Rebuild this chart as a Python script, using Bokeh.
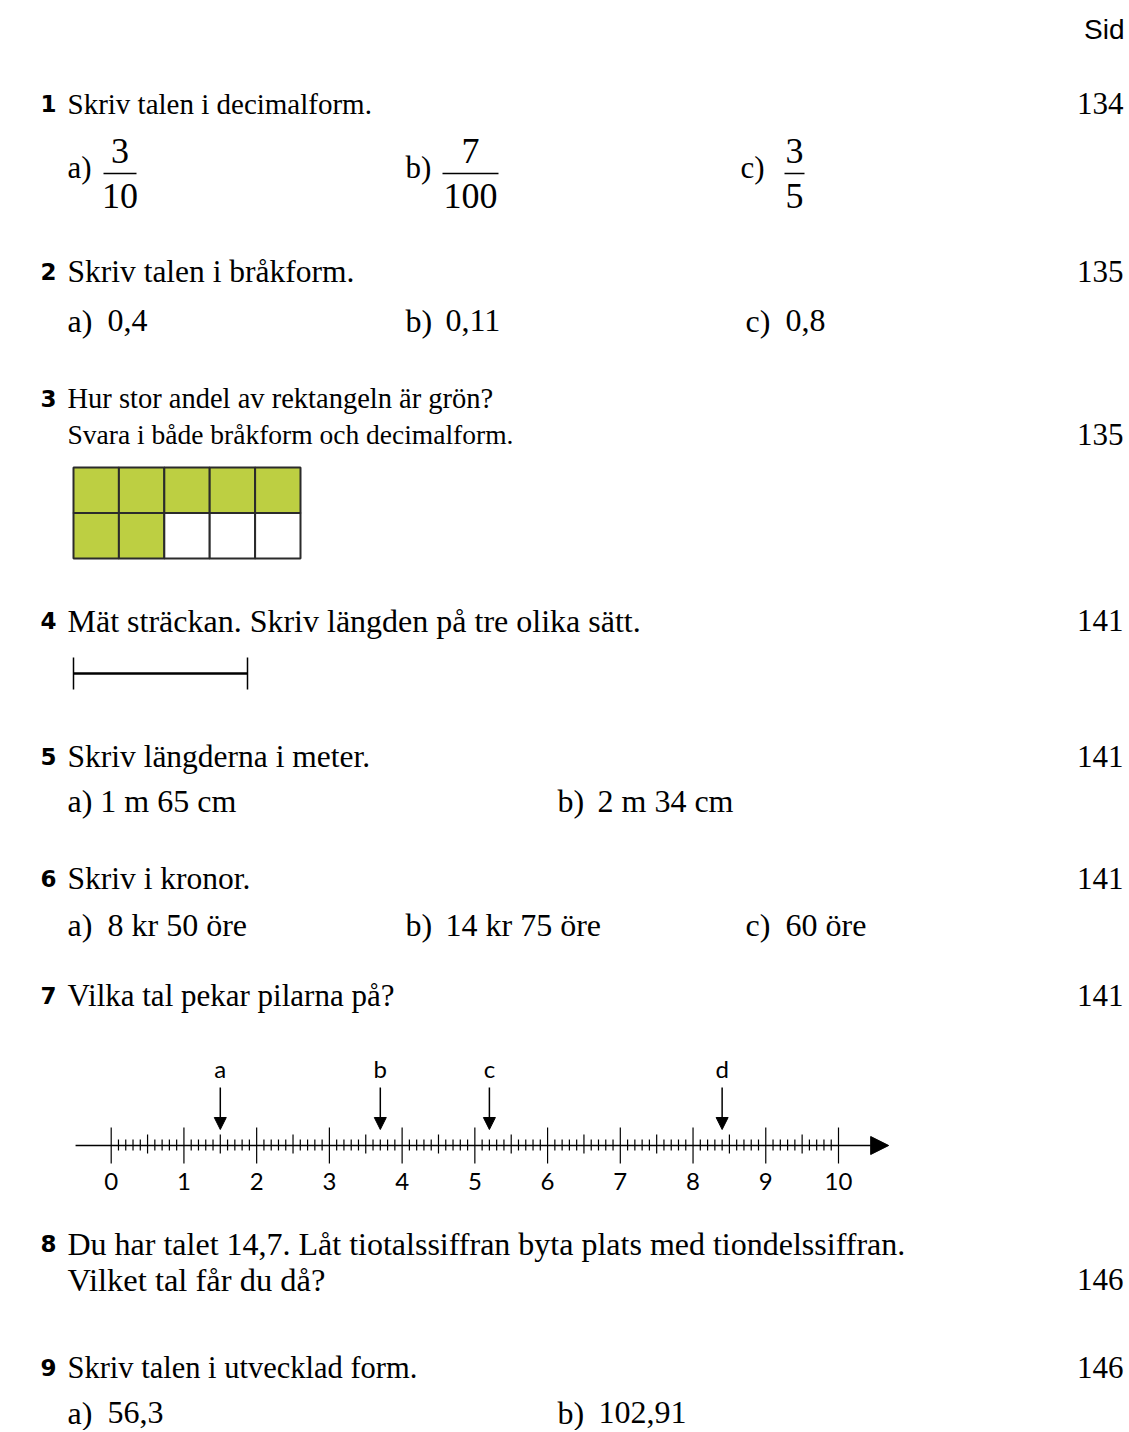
from bokeh.plotting import figure
from bokeh.models import Range1d, ColumnDataSource, Arrow, NormalHead
from bokeh.core.properties import value
from bokeh.embed import file_html
from bokeh.resources import INLINE

# ---------------- data ----------------
item_numbers = ["1", "2", "3", "4", "5", "6", "7", "8", "9"]
item_texts = [
    ["Skriv talen i decimalform."],
    ["Skriv talen i bråkform."],
    ["Hur stor andel av rektangeln är grön?", "Svara i både bråkform och decimalform."],
    ["Mät sträckan. Skriv längden på tre olika sätt."],
    ["Skriv längderna i meter."],
    ["Skriv i kronor."],
    ["Vilka tal pekar pilarna på?"],
    ["Du har talet 14,7. Låt tiotalssiffran byta plats med tiondelssiffran.",
     "Vilket tal får du då?"],
    ["Skriv talen i utvecklad form."],
]
page_refs = ["134", "135", "135", "141", "141", "141", "141", "146", "146"]

frac_labels = ["a)", "b)", "c)"]
frac_num = ["3", "7", "3"]
frac_den = ["10", "100", "5"]

q2_labels = ["a)", "b)", "c)"]
q2_values = ["0,4", "0,11", "0,8"]

grid_cols = 5
grid_rows = 2
grid_shaded = 7          # 7 of 10 cells green

q5_labels = ["a)", "b)"]
q5_values = ["1 m 65 cm", "2 m 34 cm"]

q6_labels = ["a)", "b)", "c)"]
q6_values = ["8 kr 50 öre", "14 kr 75 öre", "60 öre"]

nl_ticks = [str(i) for i in range(11)]
arrow_letters = ["a", "b", "c", "d"]
arrow_values = [1.5, 3.7, 5.2, 8.4]

q9_labels = ["a)", "b)"]
q9_values = ["56,3", "102,91"]

# ---------------- layout (page pixels) ----------------
W, H = 1127, 1430
SERIF = value("Liberation Serif")

p = figure(width=W, height=H, output_backend="svg", toolbar_location=None,
           x_range=Range1d(0, W), y_range=Range1d(H, 0),
           min_border=0, outline_line_color=None)
p.axis.visible = False
p.grid.visible = False
p.background_fill_color = "white"
p.border_fill_color = "white"

# vertical centre of the first line of each item
head_y = [103, 271, 398, 620, 756, 878, 995, 1243, 1367]
head_sizes = [[29], [31.5], [28.5, 27.5], [32], [31.5], [31.5], [31], [32, 32.5], [30.5]]
line_gap = 36
num_x, text_x, ref_x = 40, 67, 1123

# bold item numbers
p.text(x=[num_x] * 9, y=head_y, text=item_numbers,
       text_font=value("DejaVu Sans"), text_font_style="bold", text_font_size="23px",
       text_baseline="alphabetic", text_color="black")

# heading texts and page refs
tx, ty, tt, ts, ry = [], [], [], [], []
for hy, lines, sizes in zip(head_y, item_texts, head_sizes):
    for k, (ln, sz) in enumerate(zip(lines, sizes)):
        tx.append(text_x); ty.append(hy + k * line_gap); tt.append(ln)
        ts.append(f"{sz}px")
    ry.append(hy + (len(lines) - 1) * line_gap)
p.text(x=tx, y=ty, text=tt, text_font=SERIF, text_font_size=ts,
       text_baseline="alphabetic", text_color="black")
p.text(x=[ref_x] * 9, y=ry, text=page_refs, text_font=SERIF, text_font_size="31px",
       text_baseline="alphabetic", text_align="right", text_color="black")

# "Sid"
p.text(x=[1124], y=[29], text=["Sid"], text_font=value("Liberation Sans"),
       text_font_size="28px", text_baseline="alphabetic", text_align="right")

# ---- item 1: fractions
col3_x = [67, 405, 740]
frac_cx = [119.5, 470, 794]
frac_hw = [16.5, 28, 10]
p.text(x=col3_x, y=[167] * 3, text=frac_labels, text_font=SERIF, text_font_size="31px",
       text_baseline="alphabetic")
p.text(x=frac_cx, y=[150] * 3, text=frac_num, text_font=SERIF, text_font_size="36px",
       text_baseline="alphabetic", text_align="center")
p.text(x=frac_cx, y=[195] * 3, text=frac_den, text_font=SERIF, text_font_size="36px",
       text_baseline="alphabetic", text_align="center")
p.segment(x0=[c - h for c, h in zip(frac_cx, frac_hw)], y0=[173] * 3,
          x1=[c + h for c, h in zip(frac_cx, frac_hw)], y1=[173] * 3,
          line_color="black", line_width=1.5)

SUB = "32px"

def sub_row(labels, values, xs, y, off=40):
    p.text(x=xs, y=[y] * len(xs), text=labels, text_font=SERIF, text_font_size=SUB,
           text_baseline="alphabetic")
    p.text(x=[x + off for x in xs], y=[y] * len(xs), text=values, text_font=SERIF,
           text_font_size=SUB, text_baseline="alphabetic")

# ---- item 2
sub_row(q2_labels, q2_values, [67, 405, 745], 320)

# ---- item 3: grid
gx0, gy0, cw, ch = 73, 467, 45.4, 45.5
cx, cy, cc = [], [], []
for r in range(grid_rows):
    for c in range(grid_cols):
        idx = r * grid_cols + c
        cx.append(gx0 + cw * (c + 0.5)); cy.append(gy0 + ch * (r + 0.5))
        cc.append("#BDCF42" if idx < grid_shaded else "white")
p.rect(x=cx, y=cy, width=cw, height=ch, fill_color=cc, line_color="#2b2b2b", line_width=2)

# ---- item 4: segment to measure
p.segment(x0=[73], y0=[673], x1=[247], y1=[673], line_color="black", line_width=2.5)
p.segment(x0=[73, 247], y0=[657, 657], x1=[73, 247], y1=[689, 689],
          line_color="black", line_width=1.5)

# ---- item 5
p.text(x=[67], y=[800], text=[q5_labels[0] + " " + q5_values[0]], text_font=SERIF,
       text_font_size=SUB, text_baseline="alphabetic")
sub_row([q5_labels[1]], [q5_values[1]], [557], 800)

# ---- item 6
sub_row(q6_labels, q6_values, [67, 405, 745], 924)

# ---- item 7: number line (data units via extra range)
px0, unit = 110.7, 72.73
p.extra_x_ranges = {"nl": Range1d(-px0 / unit, (W - px0) / unit)}
axis_y = 1145
NLF = value("Lato")
tenths = [i / 10 for i in range(101)]
tx0, ty0, ty1 = [], [], []
for t in tenths:
    k = round(t * 10)
    if k % 10 == 0:
        a, b = -18, 18
    elif k % 5 == 0:
        a, b = -11, 8
    else:
        a, b = -6, 5
    tx0.append(t); ty0.append(axis_y + a); ty1.append(axis_y + b)
p.segment(x0=tx0, y0=ty0, x1=tx0, y1=ty1, x_range_name="nl", line_color="black",
          line_width=1.2)
p.add_layout(Arrow(x_start=-0.49, y_start=axis_y, x_end=10.69, y_end=axis_y,
                   x_range_name="nl", line_color="black", line_width=1.5,
                   end=NormalHead(size=18, fill_color="black", line_color="black")))
p.text(x=[float(v) for v in nl_ticks], y=[1181] * 11, text=nl_ticks, x_range_name="nl",
       text_font=NLF, text_font_size="24px", text_baseline="alphabetic",
       text_align="center")
asrc = ColumnDataSource(dict(x=arrow_values, y0=[1087] * 4, y1=[1129] * 4,
                             lab=arrow_letters, ly=[1068] * 4))
p.add_layout(Arrow(x_start="x", y_start="y0", x_end="x", y_end="y1", source=asrc,
                   x_range_name="nl", line_color="black", line_width=1.5,
                   end=NormalHead(size=12, fill_color="black", line_color="black")))
p.text(x="x", y="ly", text="lab", source=asrc, x_range_name="nl", text_font=NLF,
       text_font_size="24px", text_baseline="alphabetic", text_align="center")

# ---- item 9
sub_row(q9_labels[:1], q9_values[:1], [67], 1412)
sub_row(q9_labels[1:], q9_values[1:], [557], 1412, off=41)

open("out.html", "w").write(file_html(p, INLINE))
